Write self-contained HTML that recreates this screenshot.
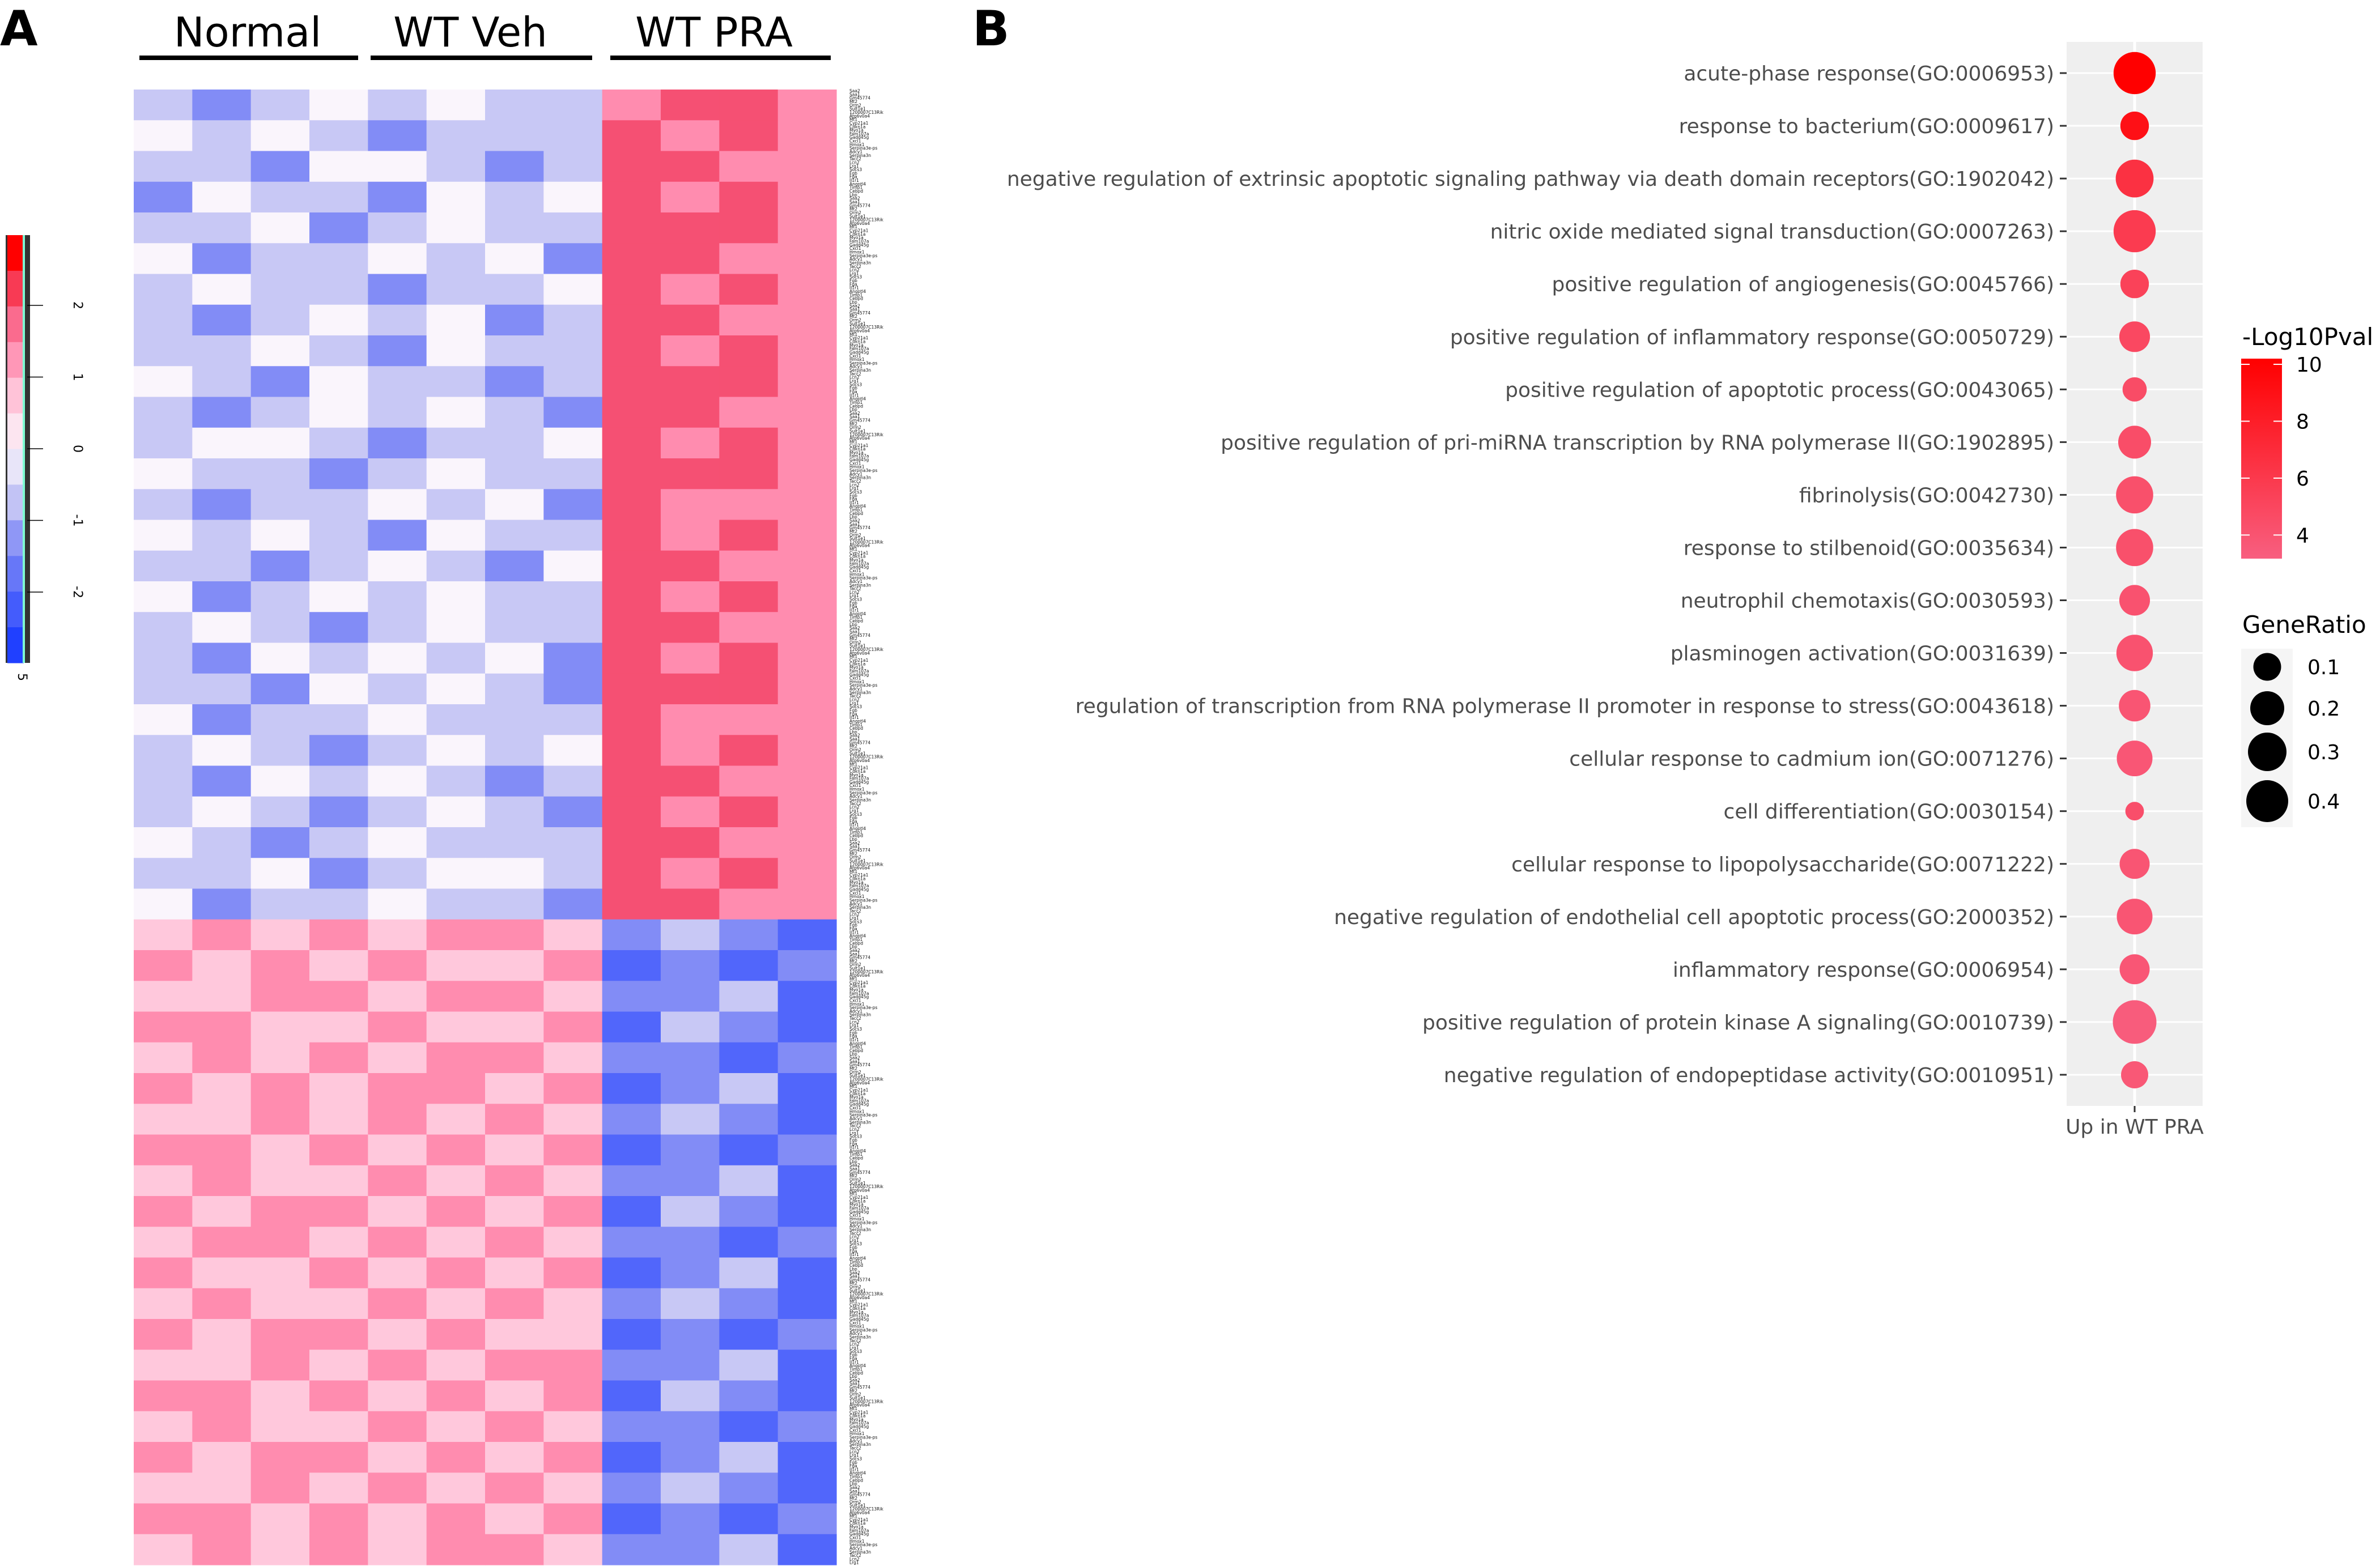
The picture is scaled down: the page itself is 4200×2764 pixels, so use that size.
<!DOCTYPE html>
<html><head><meta charset="utf-8">
<style>
html,body{margin:0;padding:0;background:#fff;}
svg{display:block;}
text{font-family:"DejaVu Sans","Liberation Sans",sans-serif;}
</style></head>
<body>
<svg id="fig" width="4200" height="2764" viewBox="0 0 4200 2764" xmlns="http://www.w3.org/2000/svg">
  <rect x="0" y="0" width="4200" height="2764" fill="#fff"/>
  <text x="0" y="80" font-size="86" font-weight="bold" font-family="Liberation Sans, sans-serif">A</text>
  <text x="1716" y="80" font-size="86" font-weight="bold" font-family="Liberation Sans, sans-serif">B</text>

  <g id="headers">
    <text x="437" y="82" font-size="72" text-anchor="middle" fill="#000">Normal</text>
    <text x="830" y="82" font-size="72" text-anchor="middle" fill="#000">WT Veh</text>
    <text x="1260" y="82" font-size="72" text-anchor="middle" fill="#000">WT PRA</text>
    <rect x="246" y="98" width="386" height="8" fill="#000"/>
    <rect x="654" y="98" width="391" height="8" fill="#000"/>
    <rect x="1077" y="98" width="389" height="8" fill="#000"/>
  </g>

  <g id="colorkey"></g>
  <g id="heatmap"></g>
  <g id="genelabels"></g>

  <g id="dotplot"></g>
  <g id="legend"></g>
</svg>
<script>
const NS = "http://www.w3.org/2000/svg";
// ---------------- Heatmap data ----------------
const heatRows = [
"323434336776","434323337676","332443237766","243324347676","334234337776","423343427766",
"343323347676","323434237766","334324337676","432433237776","323434327766","344323347676",
"433234337776","323343427666","434324337676","332343247766","423434337676","343234337766",
"324343427676","332434327776","423343337666","343234347676","324343237766","343234327676",
"432343337766","334234437676","423343327766",
"565656652321","656565561212","556656652231","665565561321","565656652212","656566561231",
"556565652321","665656561212","565565652231","656656561321","566565652212","655656561231",
"565565652321","656656551212","556565662231","665656561321","565565652212","656656561231",
"556565652321","665656561212","565656652231"
];
const geneNames = ["Saa2","Saa1","Gm45774","Mt2","Orm2","Sult1e1","1200007C13Rik","Atp6v0a4","Mt1","Cyp21a1","Cdkn1a","Myo1a","Fam107a","Gadd45g","Cxcl1","Hmox1","Serpina3e-ps","Adcy1","Serpina3n","Tacc2","Lcn2","Lrg1","Socs3","Fgb","Fga","Il1r1","Angptl4","Timp1","Cebpd","Lbp"];
const keyTicks = [2,1,0,-1,-2];

// ---------------- Dot plot data ----------------
const terms = [
"acute-phase response(GO:0006953)",
"response to bacterium(GO:0009617)",
"negative regulation of extrinsic apoptotic signaling pathway via death domain receptors(GO:1902042)",
"nitric oxide mediated signal transduction(GO:0007263)",
"positive regulation of angiogenesis(GO:0045766)",
"positive regulation of inflammatory response(GO:0050729)",
"positive regulation of apoptotic process(GO:0043065)",
"positive regulation of pri-miRNA transcription by RNA polymerase II(GO:1902895)",
"fibrinolysis(GO:0042730)",
"response to stilbenoid(GO:0035634)",
"neutrophil chemotaxis(GO:0030593)",
"plasminogen activation(GO:0031639)",
"regulation of transcription from RNA polymerase II promoter in response to stress(GO:0043618)",
"cellular response to cadmium ion(GO:0071276)",
"cell differentiation(GO:0030154)",
"cellular response to lipopolysaccharide(GO:0071222)",
"negative regulation of endothelial cell apoptotic process(GO:2000352)",
"inflammatory response(GO:0006954)",
"positive regulation of protein kinase A signaling(GO:0010739)",
"negative regulation of endopeptidase activity(GO:0010951)"
];
const geneRatio = [0.40,0.21,0.34,0.40,0.21,0.24,0.15,0.27,0.33,0.33,0.24,0.32,0.25,0.31,0.07,0.23,0.31,0.23,0.42,0.19];
const log10p   = [10.3,9.0,6.6,5.8,5.3,4.9,4.6,4.5,4.3,4.3,4.1,4.1,3.9,3.8,4.4,3.9,3.9,3.8,3.4,3.7];
const pTicks = [4,6,8,10];
const ratioTicks = [0.1,0.2,0.3,0.4];
const xCategory = "Up in WT PRA";

function mk(tag, attrs, parent){
  const e = document.createElementNS(NS, tag);
  for (const k in attrs) e.setAttribute(k, attrs[k]);
  parent.appendChild(e);
  return e;
}
function lerp(a,b,t){return Math.round(a+(b-a)*t);}
function heatColor(v){ // v in [-2,2]
  const stops=[[-2,[32,64,255]],[-1,[130,140,246]],[-0.5,[200,200,245]],[0,[250,245,252]],[0.5,[255,200,220]],[1,[255,140,175]],[1.5,[245,80,115]],[2,[255,0,0]]];
  v=Math.max(-2,Math.min(2,v));
  for(let i=0;i<stops.length-1;i++){
    const [a,ca]=stops[i],[b,cb]=stops[i+1];
    if(v<=b){const t=(v-a)/(b-a);return `rgb(${lerp(ca[0],cb[0],t)},${lerp(ca[1],cb[1],t)},${lerp(ca[2],cb[2],t)})`;}
  }
  return "rgb(255,0,0)";
}

// ---------------- Heatmap ----------------
const hm = document.getElementById("heatmap");
const HX0=236, HX1=1476, HY0=158, HY1=2762;
const nCols = heatRows[0].length, nRows = heatRows.length;
const cw=(HX1-HX0)/nCols, rh=(HY1-HY0)/nRows;
const colX = c => HX0 + c*cw;
const rowY = r => HY0 + r*rh;
heatRows.forEach((row,r)=>{
  for(let c=0;c<nCols;c++){
    const v=(parseInt(row[c])-4)/2;
    const cell=mk("rect",{x:colX(c).toFixed(2),y:rowY(r).toFixed(2),width:(cw+0.6).toFixed(2),height:(rh+0.6).toFixed(2),fill:heatColor(v)},hm);
    
    
  }
});

// gene labels
const gl=document.getElementById("genelabels");
const nLab=412, lsp=(HY1-HY0)/nLab;
for(let i=0;i<nLab;i++){
  const t=mk("text",{x:1499,y:(HY0+lsp*(i+0.8)).toFixed(1),"font-size":"7.5",fill:"#111"},gl);
  t.textContent=geneNames[i%geneNames.length];
  
  
}

// color key
const ck=document.getElementById("colorkey");
const KX=13, KW=35, KY0=415, KY1=1170;
mk("rect",{x:KX-3,y:KY0,width:KW+8,height:KY1-KY0,fill:"#333"},ck);
const keyVals=[2.75,2.25,1.75,1.25,0.75,0.25,-0.25,-0.75,-1.25,-1.75,-2.25,-2.75];
const kb=(KY1-KY0)/keyVals.length;
keyVals.forEach((v,i)=>{
  const b=mk("rect",{x:KX,y:(KY0+i*kb).toFixed(1),width:KW-6,height:(kb+0.5).toFixed(1),fill:heatColor(v/1.375)},ck);
  
  
});
mk("rect",{x:KX+KW-8,y:KY0,width:4,height:KY1-KY0,fill:"#7fffd4"},ck);
const keyY = v => 792 - v*126.5;
keyTicks.forEach(v=>{
  mk("line",{x1:KX+KW,x2:76,y1:keyY(v),y2:keyY(v),stroke:"#000","stroke-width":1.5},ck);
  const t=mk("text",{x:0,y:0,"font-size":"22",fill:"#000","text-anchor":"middle",transform:`translate(130,${keyY(v)}) rotate(90)`},ck);
  t.textContent=String(v);
  
  
});
const k0=mk("text",{x:0,y:0,"font-size":"22","text-anchor":"middle",transform:"translate(32,1195) rotate(90)"},ck);
k0.textContent="5";

// ---------------- Dot plot ----------------
const dp=document.getElementById("dotplot");
const PX0=3647, PX1=3887, PY0=74, PY1=1952, CX=3767;
const rowCY = i => 129 + i*93.05;
const rScale = g => 12 + 63*g;
const P_MIN=3.17, P_MAX=10.2;
function pColor(p){
  const t=Math.max(0,Math.min(1,(p-P_MIN)/(P_MAX-P_MIN)));
  return `rgb(${lerp(248,255,t)},${lerp(95,0,t)},${lerp(128,0,t)})`;
}
mk("rect",{x:PX0,y:PY0,width:PX1-PX0,height:PY1-PY0,fill:"#efefef"},dp);
mk("line",{x1:CX,x2:CX,y1:PY0,y2:PY1,stroke:"#fff","stroke-width":5},dp);
terms.forEach((term,i)=>{
  const y=rowCY(i);
  mk("line",{x1:PX0,x2:PX1,y1:y,y2:y,stroke:"#fff","stroke-width":3},dp);
  mk("line",{x1:3635,x2:PX0,y1:y,y2:y,stroke:"#333","stroke-width":3},dp);
  const t=mk("text",{x:3625,y:y+13,"font-size":"36","text-anchor":"end",fill:"#4d4d4d"},dp);
  t.textContent=term;
  
  
});
terms.forEach((term,i)=>{
  const c=mk("circle",{cx:CX,cy:rowCY(i).toFixed(1),r:rScale(geneRatio[i]).toFixed(1),fill:pColor(log10p[i])},dp);
  
  
});
mk("line",{x1:CX,x2:CX,y1:PY1,y2:PY1+11,stroke:"#333","stroke-width":3},dp);
const xl=mk("text",{x:CX,y:2001,"font-size":"36","text-anchor":"middle",fill:"#4d4d4d"},dp);
xl.textContent=xCategory;



// ---------------- Legends ----------------
const lg=document.getElementById("legend");
const lt=mk("text",{x:3957,y:609,"font-size":"42",fill:"#000"},lg);
lt.textContent="-Log10Pval";


const defs=mk("defs",{},lg);
const grad=mk("linearGradient",{id:"pg",x1:0,y1:1,x2:0,y2:0},defs);
mk("stop",{offset:"0",  "stop-color":pColor(P_MIN)},grad);
mk("stop",{offset:"1",  "stop-color":pColor(P_MAX)},grad);
const CBY0=633, CBY1=986;
mk("rect",{x:3955,y:CBY0,width:72,height:CBY1-CBY0,fill:"url(#pg)"},lg);
const pY = p => CBY1 - (p-P_MIN)/(P_MAX-P_MIN)*(CBY1-CBY0);
pTicks.forEach(p=>{
  mk("line",{x1:3955,x2:3970,y1:pY(p),y2:pY(p),stroke:"#fff","stroke-width":2},lg);
  mk("line",{x1:4012,x2:4027,y1:pY(p),y2:pY(p),stroke:"#fff","stroke-width":2},lg);
  const t=mk("text",{x:4052,y:pY(p)+13,"font-size":"36",fill:"#000"},lg);
  t.textContent=String(p);
  
  
});
const gt=mk("text",{x:3957,y:1117,"font-size":"42",fill:"#000"},lg);
gt.textContent="GeneRatio";


mk("rect",{x:3955,y:1145,width:91,height:315,fill:"#f5f5f5"},lg);
const legY=[1177,1250,1327,1414];
const legR=[24.5,30,34,37];
ratioTicks.forEach((g,i)=>{
  const c=mk("circle",{cx:4001,cy:legY[i],r:legR[i],fill:"#000"},lg);
  
  
  const t=mk("text",{x:4072,y:legY[i]+13,"font-size":"36",fill:"#000"},lg);
  t.textContent=String(g);
  
  
});
</script>
</body></html>
